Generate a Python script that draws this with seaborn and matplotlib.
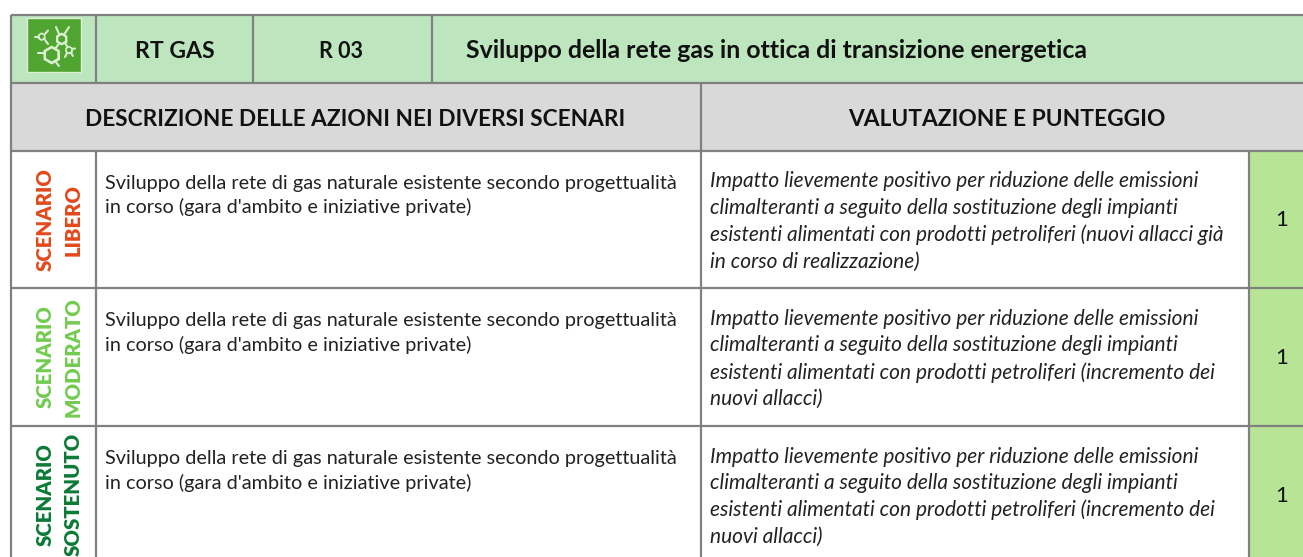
import matplotlib
matplotlib.use("Agg")
import matplotlib.pyplot as plt
from matplotlib.patches import Rectangle
import numpy as np
import pandas as pd
import seaborn as sns

code = "RT GAS"
ref = "R 03"
title = "Sviluppo della rete gas in ottica di transizione energetica"
head_left = "DESCRIZIONE DELLE AZIONI NEI DIVERSI SCENARI"
head_right = "VALUTAZIONE E PUNTEGGIO"
scenarios = ["SCENARIO\nLIBERO", "SCENARIO\nMODERATO", "SCENARIO\nSOSTENUTO"]
scenario_colors = ["#E2491B", "#72CC50", "#0B7A35"]
descriptions = ["Sviluppo della rete di gas naturale esistente secondo progettualità\nin corso (gara d'ambito e iniziative private)"] * 3
assessments = [
    "Impatto lievemente positivo per riduzione delle emissioni\nclimalteranti a seguito della sostituzione degli impianti\nesistenti alimentati con prodotti petroliferi (nuovi allacci già\nin corso di realizzazione)",
    "Impatto lievemente positivo per riduzione delle emissioni\nclimalteranti a seguito della sostituzione degli impianti\nesistenti alimentati con prodotti petroliferi (incremento dei\nnuovi allacci)",
    "Impatto lievemente positivo per riduzione delle emissioni\nclimalteranti a seguito della sostituzione degli impianti\nesistenti alimentati con prodotti petroliferi (incremento dei\nnuovi allacci)",
]
scores = [1, 1, 1]

W, H = 1303, 557
sns.set_theme(style="white")
plt.rcParams["font.family"] = ["Lato", "DejaVu Sans"]
fig = plt.figure(figsize=(W / 100, H / 100), dpi=100, facecolor="white")

GRID = "#808080"
row_top = [150.5, 288, 425.7]
row_h = 137.7

# score column: a seaborn heatmap, one row per scenario (right and bottom run off the page)
ax_s = fig.add_axes([1249 / W, 1 - (row_top[0] + 1 + 3 * row_h) / H, 66 / W, 3 * row_h / H])
sns.heatmap(pd.DataFrame({"p": scores}), ax=ax_s, cbar=False, annot=True,
            cmap=sns.color_palette(["#B7E595"]), fmt="d",
            annot_kws={"color": "#111111", "fontsize": 16}, xticklabels=False, yticklabels=False)

ax = fig.add_axes([0, 0, 1, 1], zorder=5)
ax.set_xlim(0, W)
ax.set_ylim(H, 0)
ax.axis("off")
ax.patch.set_alpha(0)

ax.add_patch(Rectangle((11, 15), W - 11, 67.5, fc="#BDE6BE", ec="none", zorder=0))
ax.add_patch(Rectangle((11, 82.5), W - 11, 68, fc="#D9D9D9", ec="none", zorder=0))

def hl(y, x0=11, x1=W):
    ax.plot([x0, x1], [y, y], color=GRID, lw=1.6, solid_capstyle="butt", zorder=2)
def vl(x, y0, y1=H):
    ax.plot([x, x], [y0, y1], color=GRID, lw=1.6, solid_capstyle="butt", zorder=2)

for y in [15, 82.5, 150.5, 288, 425.7]:
    hl(y)
vl(11, 15)
vl(96, 15, 82.5)
vl(96, 150.5)
vl(253, 15, 82.5)
vl(432, 15, 82.5)
vl(700.5, 82.5)
vl(1249, 150.5)

# icon
ICON = "#DCEFD3"
ax.add_patch(Rectangle((27, 18), 54, 54, fc="#4FA52F", ec="#DDEFD6", lw=1, zorder=3))
def hexagon(cx, cy, r, lw):
    a = np.deg2rad(np.arange(0, 361, 60) + 30)
    ax.plot(cx + r * np.cos(a), cy + r * np.sin(a), color=ICON, lw=lw, zorder=4)
hexagon(51.7, 55, 8, 1.9)
hexagon(61.7, 39, 5.2, 1.7)
hexagon(69, 50, 3.4, 1.2)
hexagon(41.7, 36.7, 3.4, 1.2)
for (x0, y0, x1, y1) in [(37.5, 53, 45, 53), (55, 61, 59, 66), (55, 49, 59, 43.5), (56, 27, 59, 34),
                         (69, 27, 64.5, 34), (65, 43, 67.5, 47), (72, 49, 75, 48.5), (35, 37, 38.5, 37),
                         (45, 34, 48, 30.5), (45, 40, 48, 44), (67, 53, 65, 57), (71, 53, 73, 56)]:
    ax.plot([x0, x1], [y0, y1], color=ICON, lw=1.5, zorder=4)

ax.text(175, 52, code, ha="center", va="center", fontsize=16.6, fontweight="bold", color="#111111")
ax.text(341, 52, ref, ha="center", va="center", fontsize=15.5, fontweight="bold", color="#111111")
ax.text(466, 51, title, ha="left", va="center", fontsize=17.9, fontweight="bold", color="#111111")
ax.text(355, 119, head_left, ha="center", va="center", fontsize=16.25, fontweight="bold", color="#111111")
ax.text(1007, 119, head_right, ha="center", va="center", fontsize=16.4, fontweight="bold", color="#111111")

for i, top in enumerate(row_top):
    ax.text(59.5, top + 69, scenarios[i], rotation=90, ha="center", va="center", multialignment="center",
            fontsize=14.7, fontweight="heavy", color=scenario_colors[i], linespacing=1.55)
    ax.text(105, top + 45, descriptions[i], ha="left", va="center", fontsize=14.3,
            color="#222222", linespacing=1.46)
    ax.text(710, top + 71, assessments[i], ha="left", va="center", fontsize=15, style="italic",
            color="#222222", linespacing=1.4)

fig.savefig("out.png", dpi=100)
